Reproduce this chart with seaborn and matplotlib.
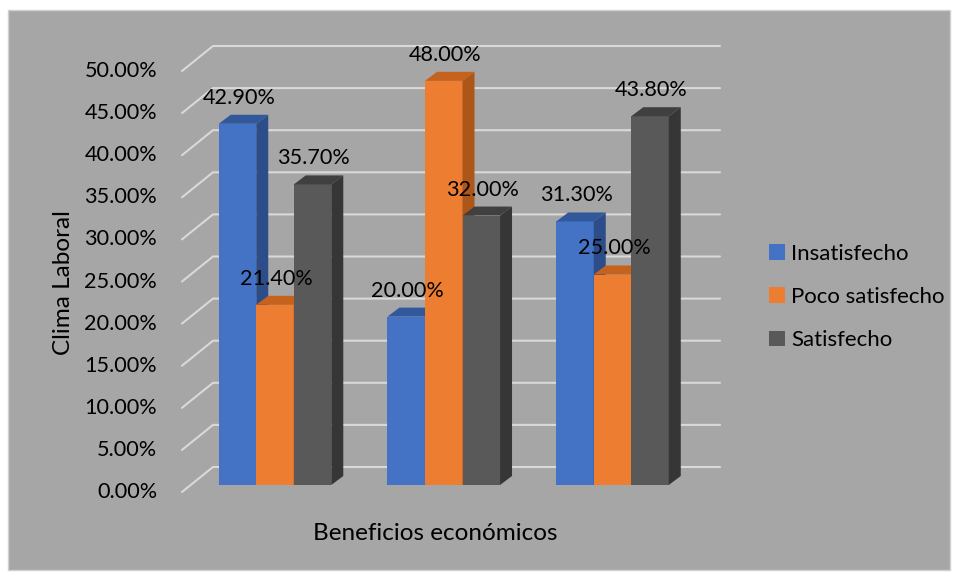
import numpy as np
import pandas as pd
import matplotlib
matplotlib.use("Agg")
import matplotlib.pyplot as plt
import seaborn as sns
from matplotlib.patches import Polygon, Rectangle, Patch
from matplotlib.lines import Line2D
from matplotlib.transforms import ScaledTranslation

# ---- data ----
categories = ["Grupo 1", "Grupo 2", "Grupo 3"]
series = ["Insatisfecho", "Poco satisfecho", "Satisfecho"]
insatisfecho = [42.9, 20.0, 31.3]
poco_satisfecho = [21.4, 48.0, 25.0]
satisfecho = [35.7, 32.0, 43.8]
y_ticks = [0, 5, 10, 15, 20, 25, 30, 35, 40, 45, 50]
y_tick_labels = [f"{t:.2f}%" for t in y_ticks]
x_title = "Beneficios económicos"
y_title = "Clima Laboral"

front_colors = {"Insatisfecho": "#4472c4", "Poco satisfecho": "#ed7d31", "Satisfecho": "#595959"}
side_colors = {"Insatisfecho": "#2c4d8a", "Poco satisfecho": "#ad5619", "Satisfecho": "#363636"}
top_colors = {"Insatisfecho": "#32589c", "Poco satisfecho": "#c4621e", "Satisfecho": "#404040"}

df = pd.DataFrame({
    "grupo": categories * 3,
    "serie": [s for s in series for _ in categories],
    "valor": insatisfecho + poco_satisfecho + satisfecho,
})

sns.set_theme(style="white")
plt.rcParams["font.family"] = ["Lato", "DejaVu Sans"]
plt.rcParams["text.color"] = "black"
FS = 15.6

W, H = 957, 578
fig = plt.figure(figsize=(W / 100, H / 100), dpi=100)
fig.patch.set_facecolor("white")
bg = Rectangle((8 / W, 1 - 570 / H), 942 / W, 560 / H, transform=fig.transFigure,
               facecolor="#a6a6a6", edgecolor="#d0d0d0", linewidth=1, zorder=-10)
fig.patches.append(bg)

ax = fig.add_axes([182 / W, (H - 485) / H, 538 / W, 421 / H])
ax.patch.set_visible(False)
ax.set_zorder(1)

sns.barplot(data=df, x="grupo", y="valor", hue="serie", hue_order=series, order=categories,
            palette=front_colors, saturation=1, width=0.667, dodge=True, linewidth=0,
            legend=False, ax=ax)

ppu = 168.75
ax.set_xlim((182 - 275) / ppu, (720 - 275) / ppu)
ax.set_ylim(0, 50)
for s in ax.spines.values():
    s.set_visible(False)
ax.set_xticks([])
ax.set_xlabel("")
ax.set_ylabel("")
ax.set_yticks(y_ticks)
ax.set_yticklabels(y_tick_labels, fontsize=FS, color="black")
ax.tick_params(axis="y", length=0, pad=18)
for lab in ax.get_yticklabels():
    lab.set_transform(lab.get_transform() + ScaledTranslation(0, -5 / 100, fig.dpi_scale_trans))

# conversion helpers (pixel offsets -> data)
inv = ax.transData.inverted()
def off(x, y, dxp, dyp):
    p = ax.transData.transform((x, y))
    return inv.transform((p[0] + dxp, p[1] + dyp))

# back-wall gridlines
x_left = ax.get_xlim()[0]
x_right = ax.get_xlim()[1]
for t in y_ticks:
    p_front = off(x_left, t, 0, -7)
    p_back = off(x_left, t, 31, 18)
    p_right = off(x_right, t, 0, 18)
    ax.add_line(Line2D([p_front[0], p_back[0], p_right[0]], [p_front[1], p_back[1], p_right[1]],
                       color="#d9d9d9", linewidth=1.5, zorder=1, clip_on=False))

# 3D faces for bars
bars = [p for p in ax.patches if isinstance(p, Rectangle)]
bars_sorted = sorted(bars, key=lambda b: b.get_x())
color_to_series = {matplotlib.colors.to_hex(c): s for s, c in front_colors.items()}
DX, DY = 12, 9
for i, b in enumerate(bars_sorted):
    z = 2 + i * 0.01
    b.set_zorder(z)
    s = color_to_series[matplotlib.colors.to_hex(b.get_facecolor())]
    x0, w, h = b.get_x(), b.get_width(), b.get_height()
    x1 = x0 + w
    a = off(x1, 0, DX, DY)
    c = off(x1, h, DX, DY)
    d = off(x0, h, DX, DY)
    side = Polygon([(x1, 0), a, c, (x1, h)], closed=True, facecolor=side_colors[s],
                   edgecolor="none", zorder=z + 0.001, clip_on=False)
    top = Polygon([(x0, h), (x1, h), c, d], closed=True, facecolor=top_colors[s],
                  edgecolor="none", zorder=z + 0.002, clip_on=False)
    ax.add_patch(side)
    ax.add_patch(top)
    ax.annotate(f"{h:.2f}%", xy=(x0 + w / 2, h), xytext=(1, 26 * 0.72), textcoords="offset points",
                ha="center", va="center", fontsize=FS, color="black", zorder=10)

fig.text(63 / W, 1 - 283 / H, y_title, rotation=90, ha="center", va="center", fontsize=17.5, color="black")
fig.text(435 / W, 1 - 533 / H, x_title, ha="center", va="center", fontsize=17.5, color="black")

handles = [Patch(facecolor=front_colors[s], edgecolor="none") for s in series]
fig.legend(handles, series, loc="center left", bbox_to_anchor=(769 / W, 1 - 297 / H),
           frameon=False, fontsize=16, handlelength=0.7, handleheight=0.7, handletextpad=0.3,
           labelspacing=1.05, borderpad=0, borderaxespad=0, labelcolor="black")

fig.savefig("out.png", dpi=100)
